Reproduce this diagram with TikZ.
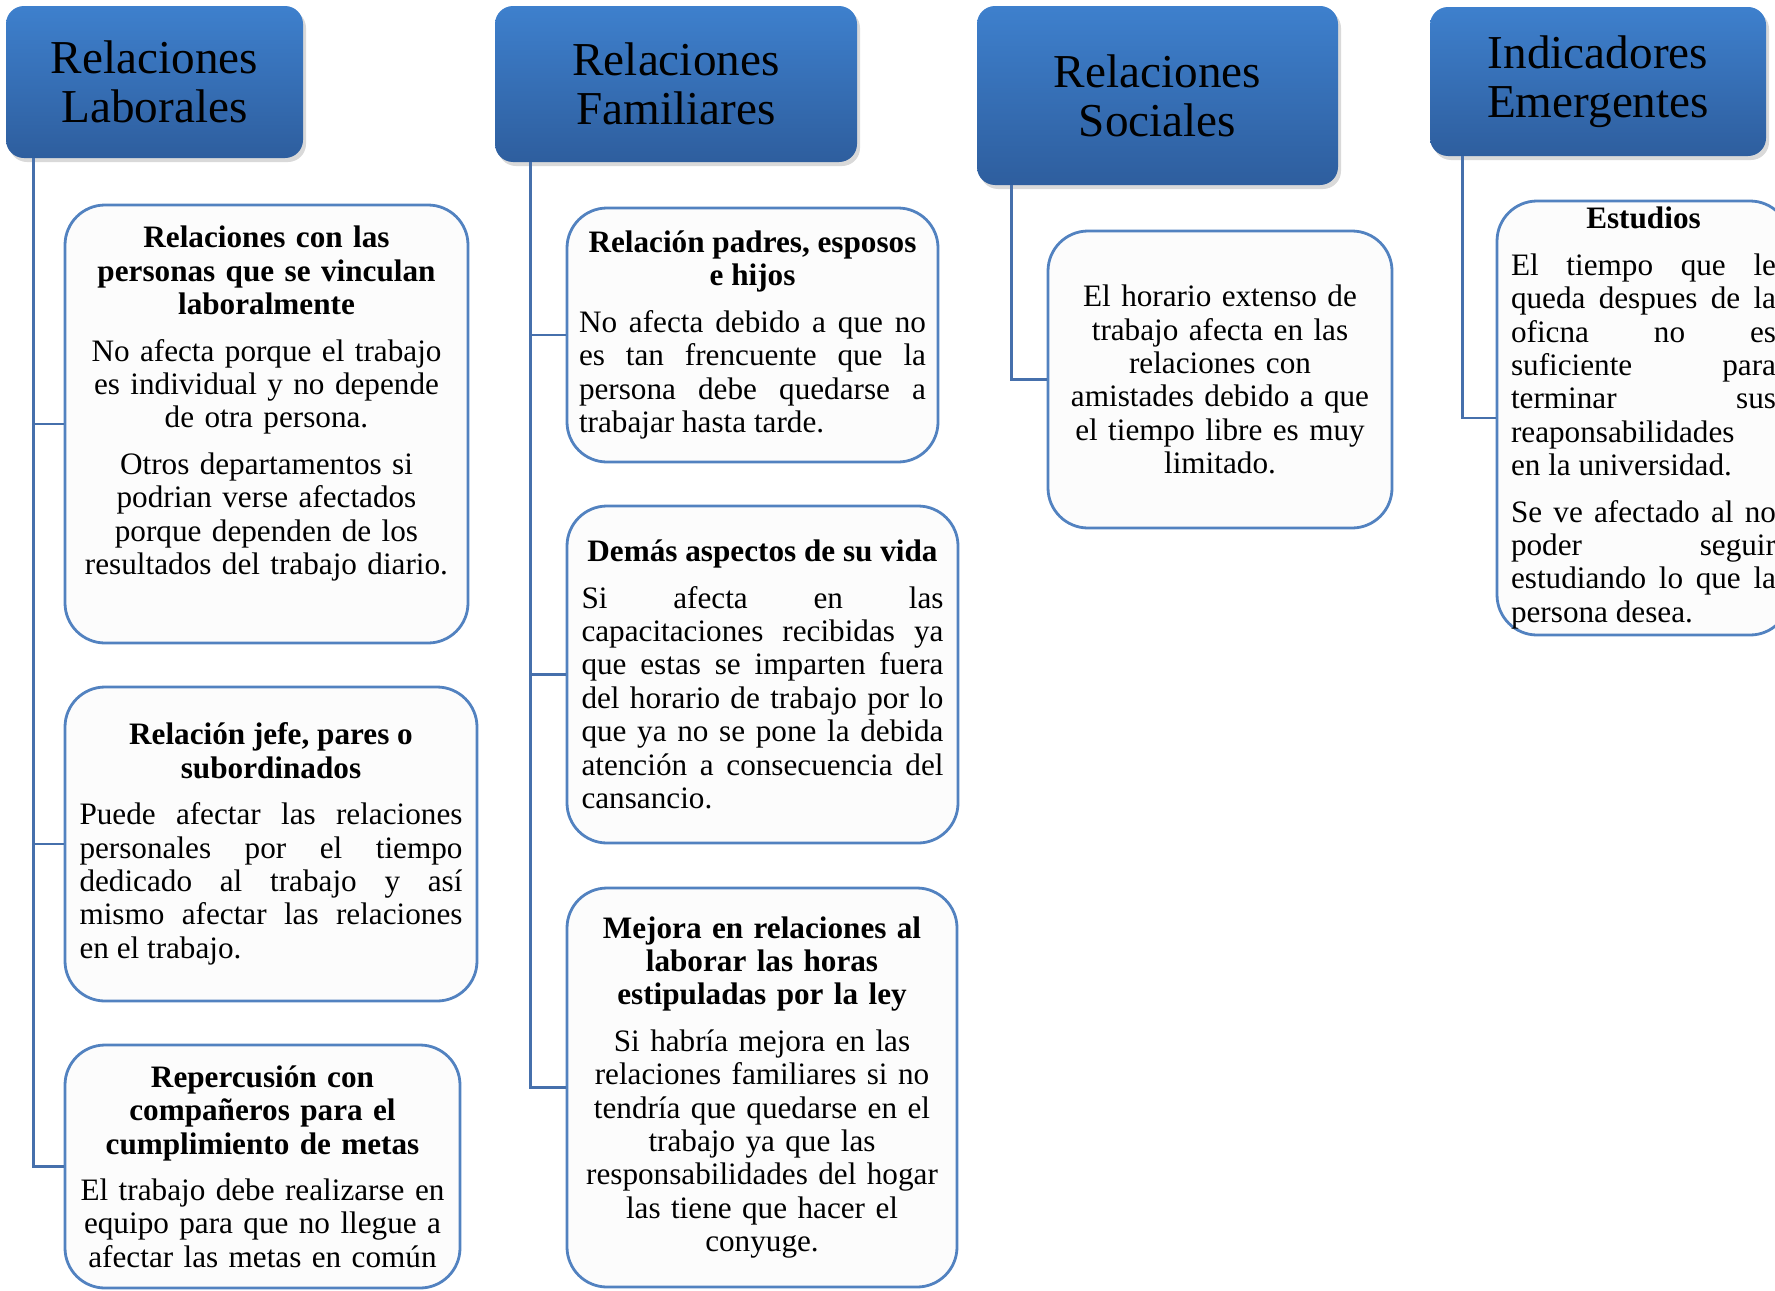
\documentclass[tikz,border=0pt]{standalone}
\usepackage{fontspec}
\setmainfont{Liberation Serif}
\usetikzlibrary{shadows}
\definecolor{hdrtop}{RGB}{62,128,205}
\definecolor{hdrbot}{RGB}{46,94,158}
\definecolor{boxline}{RGB}{82,130,192}
\definecolor{linkcol}{RGB}{70,112,172}
\definecolor{boxfill}{RGB}{252,252,252}
\tikzstyle{header} = [rectangle, rounded corners=9pt, top color=hdrtop, bottom color=hdrbot, align=center, font=\fontsize{23.6}{24.5}\selectfont, drop shadow={shadow xshift=1.5pt, shadow yshift=-2pt, opacity=0.3}]
\tikzstyle{itembox} = [rectangle, rounded corners=20pt, draw=boxline, line width=1.4pt, fill=boxfill, inner sep=0pt, font=\fontsize{15.6}{16.7}\selectfont]
\tikzstyle{link} = [draw=linkcol, line width=1.3pt]
\tolerance=9999
\hbadness=10000

\begin{document}
\begin{tikzpicture}[x=0.5pt,y=-0.5pt]
        \useasboundingbox (0,0) rectangle (1775,1290);
        \clip (0,0) rectangle (1775,1290);
        % \draw[step=100,gray,very thin] (0,0) grid (1775,1290);
        \node[header, minimum width=148.5pt, minimum height=76pt] (h1) at (154.5,82) {Relaciones\\ Laborales};
        \node[header, minimum width=181pt, minimum height=78pt] (h2) at (676,84) {Relaciones\\ Familiares};
        \node[header, minimum width=180.5pt, minimum height=89.5pt] (h3) at (1157.5,95.5) {Relaciones\\ Sociales};
        \node[header, minimum width=168pt, minimum height=74.5pt] (h4) at (1598,81.5) {Indicadores\\ Emergentes};

        \node[itembox, align=center, text width=190pt, minimum width=201.5pt, minimum height=219pt] (a1) at (266.5,424) {{\bfseries Relaciones con las\\ personas que se vinculan\\ laboralmente\par}\vspace{6.5pt}
            No afecta porque el trabajo\\ es individual y no depende\\ de otra persona.\par\vspace{6.5pt}
            Otros departamentos si\\ podrian verse afectados\\ porque dependen de los\\ resultados del trabajo diario.\par\vspace{7pt}\null};
        \node[itembox, align=justify, text width=191.5pt, minimum width=206pt, minimum height=157pt] (a2) at (271,844) {{\centering\bfseries Relación jefe, pares o\\ subordinados\par}\vspace{6.5pt}
            Puede afectar las relaciones\linebreak personales por el tiempo\linebreak dedicado al trabajo y así\linebreak mismo afectar las relaciones\linebreak en el trabajo.};
        \node[itembox, align=center, text width=190pt, minimum width=197.5pt, minimum height=121.5pt] (a3) at (262.5,1166.5) {{\bfseries Repercusión con\\ compañeros para el\\ cumplimiento de metas\par}\vspace{6.5pt}
            El trabajo debe realizarse en\\ equipo para que no llegue a\\ afectar las metas en común};

        \node[itembox, align=justify, text width=173.5pt, minimum width=185.5pt, minimum height=127pt] (b1) at (752.5,335) {{\centering\bfseries Relación padres, esposos\\ e hijos\par}\vspace{6.5pt}
            No afecta debido a que no\linebreak es tan frencuente que la\linebreak persona debe quedarse a\linebreak trabajar hasta tarde.};
        \node[itembox, align=justify, text width=181pt, minimum width=195.5pt, minimum height=168.5pt] (b2) at (762.5,674.5) {{\centering\bfseries Demás aspectos de su vida\par}\vspace{6.5pt}
            Si afecta en las\linebreak capacitaciones recibidas ya\linebreak que estas se imparten fuera\linebreak del horario de trabajo por lo\linebreak que ya no se pone la debida\linebreak atención a consecuencia del\linebreak cansancio.};
        \node[itembox, align=center, text width=185pt, minimum width=195pt, minimum height=199.5pt] (b3) at (762,1087.5) {{\bfseries Mejora en relaciones al\\ laborar las horas\\ estipuladas por la ley\par}\vspace{6.5pt}
            Si habría mejora en las\\ relaciones familiares si no\\ tendría que quedarse en el\\ trabajo ya que las\\ responsabilidades del hogar\\ las tiene que hacer el\\ conyuge.};

        \node[itembox, align=center, text width=160pt, minimum width=172pt, minimum height=148.5pt] (c1) at (1220,379.5) {El horario extenso de\\ trabajo afecta en las\\ relaciones con\\ amistades debido a que\\ el tiempo libre es muy\\ limitado.};

        \node[itembox, align=justify, text width=132.5pt, minimum width=146.5pt, minimum height=217pt] (d1) at (1643.5,418) {{\centering\bfseries Estudios\par}\vspace{6.5pt}
            El tiempo que le\linebreak queda despues de la\linebreak oficna no es\linebreak suficiente para\linebreak terminar sus\linebreak reaponsabilidades\linebreak en la universidad.\par\vspace{6.5pt}
            Se ve afectado al no\linebreak poder seguir\linebreak estudiando lo que la\linebreak persona desea.};

        \draw[link] ([xshift=14pt]h1.south west) |- (a1.west);
        \draw[link] ([xshift=14pt]h1.south west) |- (a2.west);
        \draw[link] ([xshift=14pt]h1.south west) |- (a3.west);
        \draw[link] ([xshift=18pt]h2.south west) |- (b1.west);
        \draw[link] ([xshift=18pt]h2.south west) |- (b2.west);
        \draw[link] ([xshift=18pt]h2.south west) |- (b3.west);
        \draw[link] ([xshift=17.5pt]h3.south west) |- (c1.west);
        \draw[link] ([xshift=16.5pt]h4.south west) |- (d1.west);
    \end{tikzpicture}
\end{document}
